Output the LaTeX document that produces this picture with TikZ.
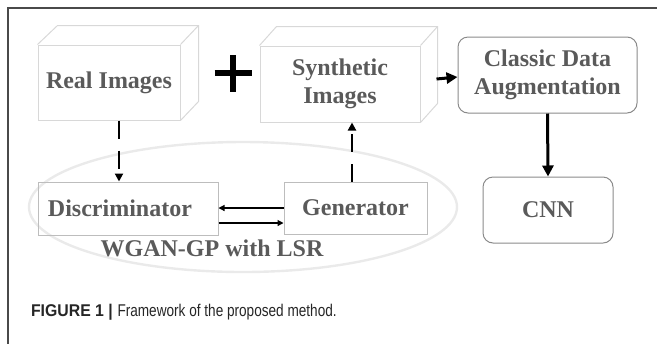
\documentclass[tikz,border=0pt]{standalone}
\usepackage{fontspec}
\setmainfont{Liberation Serif}
\newfontfamily\capfont{Liberation Sans}
\usetikzlibrary{positioning, arrows.meta, shapes.geometric}

\definecolor{labelgray}{HTML}{5A5A5A}
\definecolor{facegray}{HTML}{D8D8D8}
\definecolor{ringgray}{HTML}{EAEAEA}
\definecolor{boxgray}{HTML}{BDBDBD}
\definecolor{roundgray}{HTML}{8A8A8A}
\definecolor{framegray}{HTML}{4A4A4A}

\tikzset{
  imgtext/.style={font=\bfseries\fontsize{12}{14}\selectfont, text=labelgray, align=center},
  face/.style={rectangle, draw=facegray, line width=0.5pt, imgtext},
  ganbox/.style={rectangle, draw=boxgray, line width=0.5pt, imgtext},
  roundbox/.style={rectangle, rounded corners=5pt, draw=roundgray, line width=0.5pt, imgtext},
  dasharrow/.style={-{Triangle[length=4pt,width=4pt]}, line width=1pt, dash pattern=on 9pt off 6pt},
  thinarrow/.style={-{Triangle[length=3pt,width=3pt]}, line width=0.6pt},
  boldarrow/.style={-{Triangle[length=5.5pt,width=5.5pt]}, line width=1.5pt},
}

\begin{document}
\begin{tikzpicture}[x=0.5pt, y=-0.5pt]
            \useasboundingbox (0,0) rectangle (657,344);
            % Frame, open on the right and at the bottom
            \draw[framegray, line width=0.6pt] (657,8) -- (8,8) -- (8,344);

            % Nodes
            \node (realimg) [face, minimum width=71pt, minimum height=37.5pt] at (109,82.5) {Real Images};
            \node (synth) [face, minimum width=80pt, minimum height=38pt] at (340,84) {Synthetic\\Images};
            \node (classic) [roundbox, minimum width=89.5pt, minimum height=38pt] at (547.5,75) {Classic Data\\Augmentation};
            \node (cnn) [roundbox, minimum width=65pt, minimum height=33pt] at (548,210) {CNN};
            \node (gan) [ellipse, draw=ringgray, line width=1.2pt, minimum width=214pt, minimum height=65pt] at (243,207) {};
            \node (disc) [ganbox, minimum width=90pt, minimum height=26.5pt, text width=82pt, align=left] at (128,208.5) {\hspace{1pt}Discriminator};
            \node (gen) [ganbox, minimum width=71.5pt, minimum height=26pt] at (355.5,208) {Generator};
            \node (ganlabel) [imgtext] at (212,248) {WGAN-GP with LSR};
            \coordinate (plus) at (233,73);

            % Depth edges of the two image blocks
            \draw[facegray, line width=0.5pt] (realimg.north west) -- ++(20,-19) -| ([shift={(18,-19)}]realimg.south east) -- (realimg.south east);
            \draw[facegray, line width=0.5pt] (realimg.north east) -- ++(18,-19);
            \draw[facegray, line width=0.5pt] (synth.north west) -- ++(17,-19) -| ([shift={(17,-19)}]synth.south east) -- (synth.south east);
            \draw[facegray, line width=0.5pt] (synth.north east) -- ++(17,-19);

            % Plus sign
            \draw[line width=3pt] ([xshift=-9.25pt]plus) -- ([xshift=9.25pt]plus);
            \draw[line width=3pt] ([yshift=-9.25pt]plus) -- ([yshift=9.25pt]plus);

            % Arrows
            \draw[dasharrow] ([xshift=5pt]realimg.south) -- ([xshift=5pt]realimg.south |- disc.north);
            \draw[dasharrow] ([xshift=-1.75pt]gen.north) -- ([xshift=-1.75pt]gen.north |- synth.south);
            \draw[boldarrow] ([xshift=8pt,yshift=2.5pt]synth.east) -- ([yshift=-1pt]classic.west);
            \draw[boldarrow] (classic.south) -- (cnn.north);
            \draw[thinarrow] (gen.west) -- (gen.west -| disc.east);
            \draw[thinarrow] ([yshift=-7.25pt]disc.east) -- ([yshift=-7.25pt]disc.east -| gen.west);

            % Caption
            \node (caption) [anchor=west, font=\capfont\fontsize{8.5}{10}\selectfont, text=black!85] at (24,312) {\scalebox{0.93}[1]{\textbf{FIGURE 1 |}} \scalebox{0.8}[1]{Framework of the proposed method.}};
\end{tikzpicture}
\end{document}
